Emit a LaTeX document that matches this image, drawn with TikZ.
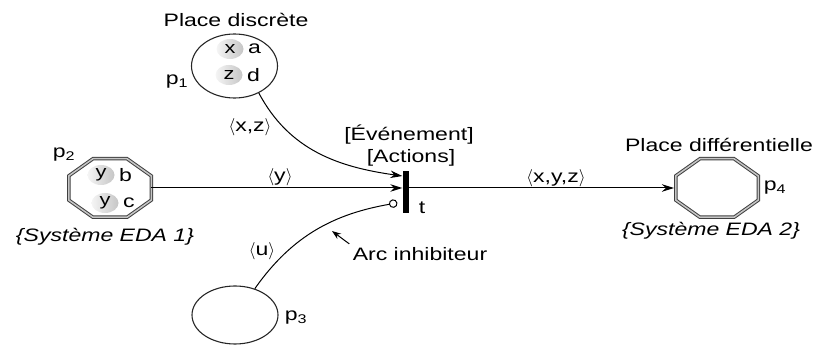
\documentclass[tikz,border=0pt]{standalone}
\usepackage{fontspec}
\setmainfont{Liberation Sans}[FakeStretch=1.28]
\usepackage{amsmath}
\usepackage{tikz}
\usetikzlibrary{shapes,arrows.meta,positioning,calc}

% octogone (place differentielle) trace autour d'un noeud
\newcommand{\octogone}[1]{%
	\draw[octline] ($(#1.north west)!.293!(#1.north east)$) -- ($(#1.north west)!.707!(#1.north east)$)
		-- ($(#1.north east)!.293!(#1.south east)$) -- ($(#1.north east)!.707!(#1.south east)$)
		-- ($(#1.south east)!.293!(#1.south west)$) -- ($(#1.south east)!.707!(#1.south west)$)
		-- ($(#1.south west)!.293!(#1.north west)$) -- ($(#1.south west)!.707!(#1.north west)$) -- cycle;}

\begin{document}
\begin{tikzpicture}[x=1pt,y=-1pt,
		every node/.style={font=\fontsize{18}{22}\selectfont},
		place/.style={draw=black!85,line width=1.1pt,ellipse,minimum width=86pt,minimum height=64pt,inner sep=0pt},
		octplace/.style={rectangle,minimum width=82.5pt,minimum height=58.5pt,inner sep=0pt,outer sep=0pt},
		octline/.style={draw=black!75,line width=1pt,double=gray!45,double distance=1.5pt,line join=miter},
		jeton/.style={ellipse,minimum width=27pt,minimum height=20pt,inner sep=0pt,
			left color=gray!8,right color=gray!45,font=\fontsize{17}{20}\selectfont},
		trans/.style={fill=black,minimum width=6pt,minimum height=42pt,inner sep=0pt},
		arc/.style={line width=1pt,-{Stealth[length=12pt,width=7.5pt]}},
		inhib/.style={line width=1pt,-{Circle[open,length=8.5pt,width=8.5pt]},shorten >=5pt},
		ptr/.style={line width=1pt,-{Stealth[length=9pt,width=6.5pt]}},
		lbl/.style={font=\fontsize{18}{22}\selectfont,label distance=1pt}]
	\useasboundingbox (0,0) rectangle (815,347);
	
	% ---------- places ----------
	% p1 : place discrete
	\node[place] (p1) at (234.5,66) {};
	\node[jeton,label={[lbl]right:a}] (jx) at (230,49) {x};
	\node[jeton,label={[lbl]right:d}] (jz) at (229,75) {z};
	\node (tp1) at (236,20) {Place discrète};
	\node (lp1) at (177,82) {p\textsubscript{1}};
	
	% p2 : systeme EDA 1
	\node[octplace] (p2) at (110,188) {};
	\octogone{p2}
	\node[jeton,label={[lbl]right:b}] (jy1) at (101,175) {y};
	\node[jeton,label={[lbl]right:c}] (jy2) at (105,203) {y};
	\node (lp2) at (64,155) {p\textsubscript{2}};
	\node (eda1) at (105,237) {\itshape\{Système EDA 1\}};
	
	% p3
	\node[place,minimum height=58pt] (p3) at (235,315) {};
	\node (lp3) at (296,318) {p\textsubscript{3}};
	
	% p4 : place differentielle
	\node[octplace] (p4) at (717,188) {};
	\octogone{p4}
	\node (tp4) at (719,145) {Place différentielle};
	\node (lp4) at (775,188) {p\textsubscript{4}};
	\node (eda2) at (711,231) {\itshape\{Système EDA 2\}};
	
	% ---------- transition ----------
	\node[trans] (t) at (405.5,192) {};
	\node (lt) at (422,208) {t};
	\node (ev) at (409,135) {[Événement]};
	\node (act) at (411,158) {[Actions]};
	
	% ---------- arcs ----------
	\draw[arc] (p1.-48) to[out=-62,in=172] ([yshift=16pt]t.west);
	\draw[arc] (p2.east) -- (p2.east -| t.west);
	\draw[arc,shorten >=1.8pt] (p4.west -| t.east) -- (p4.west);
	\draw[inhib] (p3.53) to[out=55,in=190] ([yshift=-10pt]t.west);
	
	\node (axz) at (250,127) {$\langle$x,z$\rangle$};
	\node (ay) at (280,177) {$\langle$y$\rangle$};
	\node (axyz) at (556,178) {$\langle$x,y,z$\rangle$};
	\node (au) at (262,251) {$\langle$u$\rangle$};
	
	% arc inhibiteur
	\node (inh) at (420,254) {Arc inhibiteur};
	\coordinate (inhtip) at (332,231);
	\draw[ptr] (inh.north west) -- (inhtip);
\end{tikzpicture}
\end{document}
